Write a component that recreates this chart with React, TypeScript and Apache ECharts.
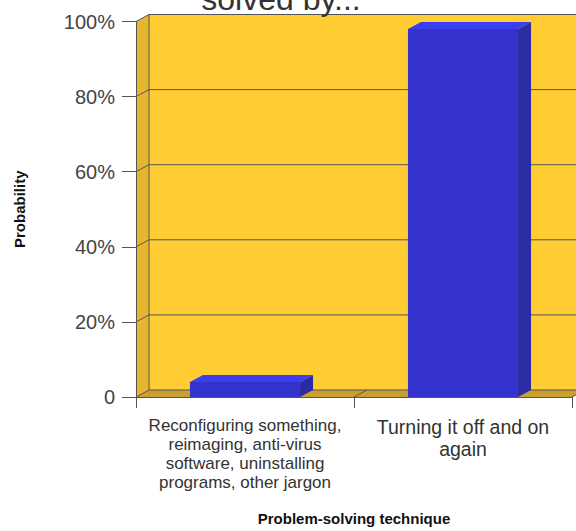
import React, { useEffect, useRef } from "react";
import * as echarts from "echarts";

const CATEGORIES = [
  "Reconfiguring something,\nreimaging, anti-virus\nsoftware, uninstalling\nprograms, other jargon",
  "Turning it off and on\nagain",
];
const VALUES = [4, 98];
const Y_TICKS = [0, 20, 40, 60, 80, 100];
const TITLE = "solved by...";
const X_NAME = "Problem-solving technique";
const Y_NAME = "Probability";

const DX = 13;
const DY = -7;
const BAR_RATIO = 0.505;
const FONT = "'Liberation Sans', Arial, Helvetica, sans-serif";
const LINE = "#555555";

export default function App() {
  const ref = useRef<HTMLDivElement>(null);
  useEffect(() => {
    document.body.style.margin = "0";
    const chart = echarts.init(ref.current!, null, { renderer: "svg" });
    const labelStyles = [
      { fontSize: 17, lineHeight: 19 },
      { fontSize: 19.5, lineHeight: 22 },
    ];
    const option: any = {
      animation: false,
      backgroundColor: "#ffffff",
      grid: { left: 136, right: 4, top: 21.5, bottom: 126.5, containLabel: false },
      graphic: [
        {
          type: "text",
          x: 281,
          y: 15,
          z: 10,
          style: {
            text: TITLE,
            fontSize: 32,
            fontFamily: FONT,
            fill: "#333333",
            align: "center",
            verticalAlign: "bottom",
          },
        },
      ],
      xAxis: {
        type: "category",
        data: CATEGORIES.map((c, i) => ({ value: c, textStyle: labelStyles[i] })),
        z: 3,
        axisLine: { show: true, lineStyle: { color: LINE } },
        axisTick: { show: true, length: 11, interval: 0, lineStyle: { color: LINE } },
        axisLabel: { interval: 0, margin: 19, color: "#333333", fontFamily: FONT },
        splitLine: { show: false },
        name: X_NAME,
        nameLocation: "middle",
        nameGap: 114,
        nameTextStyle: { fontWeight: "bold", fontSize: 15, color: "#111111", fontFamily: FONT },
      },
      yAxis: {
        type: "value",
        min: 0,
        max: 100,
        interval: 20,
        z: 3,
        axisLine: { show: true, lineStyle: { color: LINE } },
        axisTick: { show: true, length: 14, lineStyle: { color: LINE } },
        axisLabel: {
          margin: 21,
          fontSize: 20,
          color: "#444444",
          fontFamily: FONT,
          formatter: (v: number) => (v === 0 ? "0" : v + "%"),
        },
        splitLine: { show: false },
        name: Y_NAME,
        nameLocation: "middle",
        nameGap: 109,
        nameTextStyle: { fontWeight: "bold", fontSize: 15, color: "#111111", fontFamily: FONT },
      },
      series: [
        {
          type: "custom",
          z: 1,
          silent: true,
          data: [[0, 0]],
          renderItem: (params: any, api: any) => {
            const cs = params.coordSys;
            const x0 = cs.x;
            const x1 = cs.x + cs.width;
            const yTop = api.coord([0, Y_TICKS[Y_TICKS.length - 1]])[1];
            const yBot = api.coord([0, Y_TICKS[0]])[1];
            const ls = { stroke: LINE, lineWidth: 1, fill: null };
            const children: any[] = [];
            children.push({
              type: "rect",
              shape: { x: x0 + DX, y: yTop + DY, width: x1 - x0, height: yBot - yTop },
              style: { fill: "#FFCC33" },
            });
            children.push({
              type: "polygon",
              shape: { points: [[x0, yTop], [x0 + DX, yTop + DY], [x0 + DX, yBot + DY], [x0, yBot]] },
              style: { fill: "#E6B62E" },
            });
            children.push({
              type: "polygon",
              shape: { points: [[x0, yBot], [x0 + DX, yBot + DY], [x1 + DX, yBot + DY], [x1, yBot]] },
              style: { fill: "#C9A030" },
            });
            children.push({
              type: "line",
              shape: { x1: x0 + DX, y1: yTop + DY, x2: x0 + DX, y2: yBot + DY },
              style: ls,
            });
            Y_TICKS.forEach((v) => {
              const y = api.coord([0, v])[1];
              children.push({
                type: "polyline",
                shape: { points: [[x0, y], [x0 + DX, y + DY], [x1 + DX, y + DY]] },
                style: ls,
              });
            });
            const n = CATEGORIES.length;
            for (let i = 1; i <= n; i++) {
              const x = x0 + (i * cs.width) / n;
              children.push({
                type: "line",
                shape: { x1: x, y1: yBot, x2: x + DX, y2: yBot + DY },
                style: ls,
              });
            }
            return { type: "group", children };
          },
        },
        {
          type: "custom",
          z: 4,
          data: VALUES.map((v, i) => [i, v]),
          renderItem: (params: any, api: any) => {
            const cat = api.value(0);
            const val = api.value(1);
            const top = api.coord([cat, val]);
            const base = api.coord([cat, 0]);
            const bw = api.size([1, 0])[0] * BAR_RATIO;
            const xa = top[0] - bw / 2;
            const xb = top[0] + bw / 2;
            const yt = top[1];
            const yb = base[1];
            return {
              type: "group",
              children: [
                {
                  type: "polygon",
                  shape: { points: [[xb, yt], [xb + DX, yt + DY], [xb + DX, yb + DY], [xb, yb]] },
                  style: { fill: "#2B2BA6" },
                },
                {
                  type: "polygon",
                  shape: { points: [[xa, yt], [xa + DX, yt + DY], [xb + DX, yt + DY], [xb, yt]] },
                  style: { fill: "#3C3CF0" },
                },
                {
                  type: "rect",
                  shape: { x: xa, y: yt, width: bw, height: yb - yt },
                  style: { fill: "#3333CC" },
                },
              ],
            };
          },
        },
      ],
    };
    chart.setOption(option);
    return () => chart.dispose();
  }, []);
  return <div ref={ref} style={{ width: 576, height: 531 }} />;
}
